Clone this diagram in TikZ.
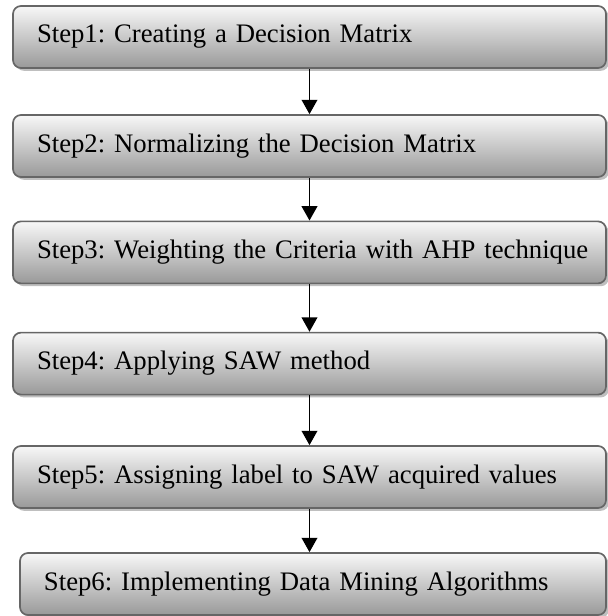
\documentclass[tikz,border=0pt]{standalone}
\usepackage{fontspec}
\setmainfont{Liberation Serif}
\usepackage{tikz}
\usetikzlibrary{arrows.meta, shadows}

\tikzset{
    stepbox/.style={draw=black!60, line width=1.2pt, rounded corners=0.2cm,
        top color=black!3, bottom color=black!40,
        drop shadow={shadow xshift=0.07cm, shadow yshift=-0.07cm, fill=black!25, opacity=1},
        minimum height=1.55cm, text width=13.625cm, align=left, inner xsep=0.6cm,
        execute at begin node=\leavevmode\hbox\bgroup,
        execute at end node=\egroup,
        font=\fontsize{19}{22}\selectfont\frenchspacing},
    flow/.style={-{Triangle[length=0.36cm, width=0.39cm]}, line width=1.4pt}
}

\begin{document}
\begin{tikzpicture}
    \useasboundingbox (0,0) rectangle (15.2,15.4);

    \coordinate (P1) at (7.7375,14.475);
    \coordinate (P2) at (7.7375,11.75);
    \coordinate (P3) at (7.7375,9.09);
    \coordinate (P4) at (7.7375,6.31);
    \coordinate (P5) at (7.7375,3.475);
    \coordinate (P6) at (7.825,0.8);

    \node[stepbox] (s1) at (P1) {Step1: Creating a Decision Matrix};
    \node[stepbox] (s2) at (P2) {Step2: Normalizing the Decision Matrix};
    \node[stepbox] (s3) at (P3) {Step3: Weighting the Criteria with AHP technique};
    \node[stepbox] (s4) at (P4) {Step4: Applying SAW method};
    \node[stepbox] (s5) at (P5) {Step5: Assigning label to SAW acquired values};
    \node[stepbox, text width=13.45cm] (s6) at (P6) {Step6: Implementing Data Mining Algorithms};

    \draw[flow] (s1.south) -- (s2.north);
    \draw[flow] (s2.south) -- (s3.north);
    \draw[flow] (s3.south) -- (s4.north);
    \draw[flow] (s4.south) -- (s5.north);
    \draw[flow] (s5.south) -- (s5.south |- s6.north);
\end{tikzpicture}
\end{document}
